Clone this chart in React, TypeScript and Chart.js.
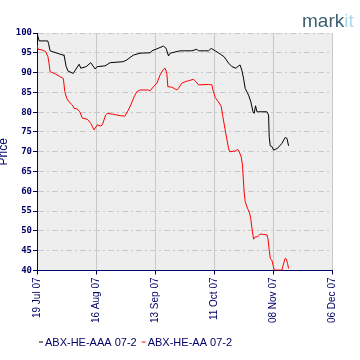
import React, { useEffect, useRef } from "react";
import { Chart, registerables } from "chart.js";

Chart.register(...registerables);

// ---- data ----
const seriesNames = ["ABX-HE-AAA 07-2", "ABX-HE-AA 07-2"];
const seriesColors = ["#000000", "#ff0000"];
const yAxisTitle = "Price";
const monthNames = ["Jan", "Feb", "Mar", "Apr", "May", "Jun", "Jul", "Aug", "Sep", "Oct", "Nov", "Dec"];
// x values are days since 19 Jul 07
const xMinDay = 0;
const xMaxDay = 140;
const xTickStepDays = 28;
const yMin = 40;
const yMax = 100;
const yStep = 5;

const aaaDays = [0, 1, 5.1, 5.5, 6.2, 12.4, 12.8, 13.8, 14.7, 17.2, 20, 20.8, 23.3, 25.5, 27.6, 28.5, 32.3, 34.7, 40.9, 42.6, 45.7, 48.9, 53.7, 54.5, 56.9, 60, 61.3, 62.4, 63.2, 67.9, 73.5, 75.9, 76.6, 81.4, 82.7, 84.6, 86.9, 88.8, 90.9, 92.5, 94.5, 95.6, 96.4, 97.2, 98, 98.8, 100.4, 101.5, 102.5, 103.1, 103.7, 104.4, 105.1, 109.1, 109.9, 110.2, 110.7, 111.5, 112.3, 114.2, 116.2, 117.8, 118.6, 119.4];
const aaaPrices = [100, 98, 98, 97.3, 95.5, 94.4, 94.5, 91.6, 90.4, 89.8, 92.1, 91.1, 91.5, 92.5, 90.9, 91.5, 91.7, 92.5, 92.75, 93.2, 94.4, 94.9, 95.0, 95.5, 96.0, 96.7, 96.1, 94.2, 94.9, 95.5, 95.5, 95.9, 95.5, 95.5, 96.1, 95.5, 94.7, 94.0, 92.4, 91.5, 91.1, 91.7, 91.9, 90.6, 88.6, 86.0, 84.3, 82.6, 80.1, 79.7, 81.6, 80.1, 80.1, 80.1, 79.3, 73.8, 71.5, 71.3, 70.4, 70.9, 72.1, 73.6, 73.4, 71.5];

const aaDays = [0, 0.5, 2.5, 4.1, 5.2, 5.7, 6.2, 7.3, 8.9, 10.5, 12.5, 13.2, 14.1, 15.2, 16.8, 17.6, 19.1, 20.3, 21.5, 23.9, 25.5, 27.1, 28.6, 30.3, 31, 32.6, 33.4, 35.8, 39.8, 41.7, 42.9, 44.5, 46.1, 47.4, 48.9, 52.9, 53.7, 55.2, 56.9, 58.4, 60, 60.8, 61.6, 62.1, 63.2, 64, 66.4, 67.1, 68.7, 70.3, 71.9, 74.3, 75.9, 76.6, 81.4, 83, 83.6, 84.6, 86.1, 87.4, 88.2, 89.3, 90.1, 90.9, 91.4, 94.1, 95.2, 96, 96.9, 97.5, 98.3, 98.8, 99.9, 100.9, 101.5, 102, 102.8, 103.6, 104.7, 105.9, 107.5, 109.1, 109.6, 110.2, 110.7, 111.5, 112, 112.6, 116.2, 116.7, 117.8, 118.3, 118.9, 119.4];
const aaPrices = [97.0, 95.9, 95.7, 95.3, 94.0, 92.4, 90.2, 90.0, 89.6, 89.1, 88.5, 85.2, 83.5, 82.6, 81.8, 81.0, 80.8, 80.1, 78.5, 78.2, 77.2, 75.5, 76.8, 76.5, 76.8, 79.3, 79.7, 79.5, 79.1, 79.0, 80.1, 81.8, 83.9, 85.2, 85.6, 85.6, 85.4, 86.4, 87.3, 89.4, 90.8, 91.1, 89.8, 86.4, 86.4, 86.3, 85.6, 86.0, 87.3, 87.7, 87.95, 88.3, 87.4, 86.9, 87.0, 86.9, 85.4, 83.7, 82.6, 81.5, 78.9, 75.5, 73.2, 70.9, 70.0, 70.2, 70.6, 70.0, 68.7, 66.7, 59.9, 57.4, 55.7, 54.5, 52.8, 50.7, 47.9, 48.5, 48.5, 49.2, 49.1, 49.0, 48.1, 45.2, 43.1, 42.5, 41.4, 40.1, 40.1, 41.1, 43.1, 42.9, 41.8, 40.5];

const NAVY = "#000066";
const GRID = "#c8c8c8";

function formatDay(v: number): string {
  const d = new Date(2007, 6, 19 + v);
  const dd = String(d.getDate()).padStart(2, "0");
  const yy = String(d.getFullYear() % 100).padStart(2, "0");
  return `${dd} ${monthNames[d.getMonth()]} ${yy}`;
}

const decorPlugin = {
  id: "decor",
  beforeDraw(chart: any) {
    const { ctx, chartArea } = chart;
    ctx.save();
    ctx.fillStyle = "#ffffff";
    ctx.fillRect(0, 0, chart.width, chart.height);
    ctx.fillStyle = "#eeeeee";
    ctx.fillRect(chartArea.left, chartArea.top, chartArea.right - chartArea.left, chartArea.bottom - chartArea.top);
    ctx.restore();
  },
  afterDraw(chart: any) {
    const { ctx, chartArea } = chart;
    ctx.save();
    // y-axis title
    ctx.fillStyle = NAVY;
    ctx.font = "12px 'Liberation Sans', Arial, sans-serif";
    ctx.textAlign = "center";
    ctx.textBaseline = "middle";
    ctx.translate(4, (chartArea.top + chartArea.bottom) / 2);
    ctx.rotate(-Math.PI / 2);
    ctx.fillText(yAxisTitle, 0, 0);
    ctx.restore();

    // legend
    ctx.save();
    ctx.font = "11px 'Liberation Sans', Arial, sans-serif";
    ctx.textBaseline = "middle";
    ctx.textAlign = "left";
    let x = 39;
    const y = 341.5;
    seriesNames.forEach((name, i) => {
      ctx.strokeStyle = seriesColors[i];
      ctx.lineWidth = 1;
      ctx.beginPath();
      ctx.moveTo(x, y + 0.5);
      ctx.lineTo(x + 4, y + 0.5);
      ctx.stroke();
      ctx.fillStyle = NAVY;
      ctx.fillText(name, x + 6, y + 1);
      x += 6 + ctx.measureText(name).width + 5;
    });
    ctx.restore();

    // logo
    ctx.save();
    ctx.font = "19px 'Liberation Sans', Arial, sans-serif";
    ctx.textBaseline = "alphabetic";
    ctx.textAlign = "left";
    ctx.fillStyle = "#3d5f70";
    const lx = 302;
    ctx.fillText("mark", lx, 27);
    const w = ctx.measureText("mark").width;
    ctx.fillStyle = "#a9d9ea";
    ctx.fillText("it", lx + w, 27);
    ctx.restore();
  },
};

export default function App() {
  const ref = useRef<HTMLCanvasElement | null>(null);
  useEffect(() => {
    document.body.style.margin = "0";
    const canvas = ref.current;
    if (!canvas) return;
    const chart = new Chart(canvas, {
      type: "line",
      data: {
        datasets: [
          {
            label: seriesNames[0],
            data: aaaDays.map((d, i) => ({ x: d, y: aaaPrices[i] })),
            borderColor: seriesColors[0],
            backgroundColor: seriesColors[0],
            borderWidth: 1,
            pointRadius: 0,
            tension: 0,
          },
          {
            label: seriesNames[1],
            data: aaDays.map((d, i) => ({ x: d, y: aaPrices[i] })),
            borderColor: seriesColors[1],
            backgroundColor: seriesColors[1],
            borderWidth: 1,
            pointRadius: 0,
            tension: 0,
          },
        ],
      },
      options: {
        animation: false,
        responsive: false,
        devicePixelRatio: 1,
        layout: { padding: { left: 0, top: 33, right: 28, bottom: 0 } },
        plugins: {
          legend: { display: false },
          tooltip: { enabled: false },
        },
        scales: {
          x: {
            type: "linear",
            min: xMinDay,
            max: xMaxDay,
            afterFit: (s: any) => {
              s.height = 89.5;
            },
            ticks: {
              stepSize: xTickStepDays,
              minRotation: 90,
              maxRotation: 90,
              autoSkip: false,
              padding: 3,
              color: NAVY,
              font: { family: "'Liberation Sans', Arial, sans-serif", size: 10 },
              callback: (v: any) => formatDay(Number(v)),
            },
            grid: {
              color: GRID,
              lineWidth: 1,
              tickColor: NAVY,
              tickLength: 4,
            },
            border: { color: NAVY, width: 1 },
          },
          y: {
            type: "linear",
            min: yMin,
            max: yMax,
            afterFit: (s: any) => {
              s.width = 37;
            },
            ticks: {
              stepSize: yStep,
              padding: 1,
              color: NAVY,
              font: { family: "'DejaVu Sans Mono', monospace", size: 9, weight: "bold" },
            },
            grid: {
              color: GRID,
              lineWidth: 1,
              tickColor: NAVY,
              tickLength: 4,
            },
            border: { color: NAVY, width: 1, dash: [6, 3, 2, 3] },
          },
        },
      },
      plugins: [decorPlugin],
    } as any);
    return () => chart.destroy();
  }, []);
  return (
    <div style={{ position: "absolute", left: 0, top: 0, width: 360, height: 360 }}>
      <canvas ref={ref} width={360} height={360} style={{ width: 360, height: 360, display: "block" }} />
    </div>
  );
}
